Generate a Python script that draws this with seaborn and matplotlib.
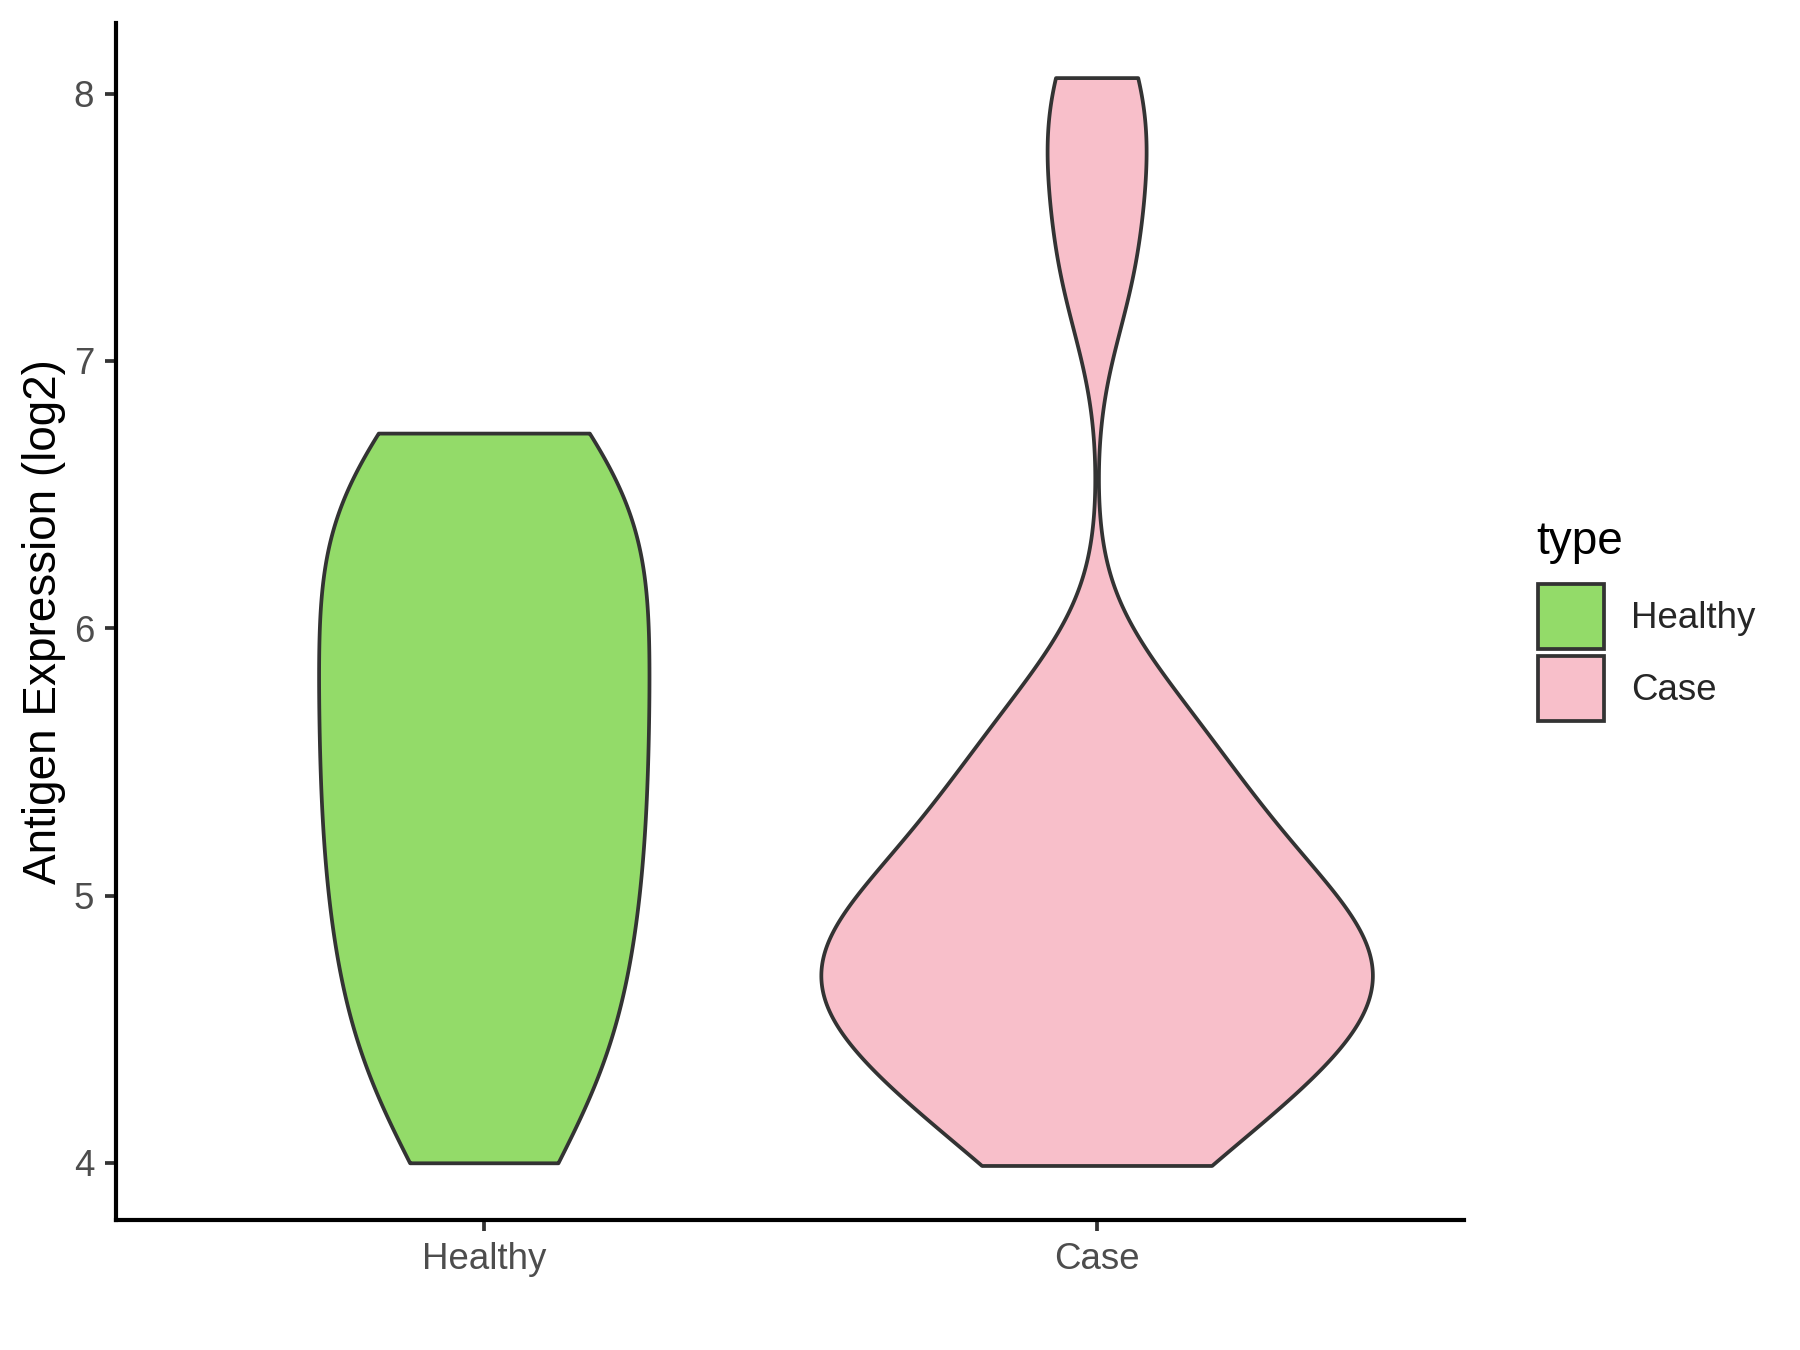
import numpy as np
import pandas as pd
import matplotlib.pyplot as plt
import seaborn as sns
from matplotlib.patches import Patch

groups = ["Healthy", "Case"]
colors = ["#93DB69", "#F8BFCA"]

healthy_values = [4.00, 4.17, 4.33, 4.48, 4.62, 4.75, 4.88, 5.01, 5.13, 5.25, 5.37, 5.49,
                  5.61, 5.73, 5.85, 5.97, 6.09, 6.21, 6.33, 6.45, 6.57, 6.67, 6.73]
case_values = [3.99, 4.09, 4.20, 4.30, 4.39, 4.47, 4.54, 4.60, 4.65, 4.70, 4.75, 4.81,
               4.87, 4.94, 5.02, 5.11, 5.21, 5.32, 5.45, 5.60, 5.77,
               7.32, 7.74, 8.06]

y_ticks = [4, 5, 6, 7, 8]

df = pd.DataFrame({
    "type": ["Healthy"] * len(healthy_values) + ["Case"] * len(case_values),
    "expr": healthy_values + case_values,
})


def bw_nrd0(kde):
    # same rule as R's default bandwidth (bw.nrd0)
    x = kde.dataset[0]
    sd = np.std(x, ddof=1)
    q75, q25 = np.percentile(x, [75, 25])
    h = 0.9 * min(sd, (q75 - q25) / 1.34) * len(x) ** -0.2
    return h / sd


sns.set_theme(style="ticks")
plt.rcParams["font.family"] = ["Liberation Sans", "DejaVu Sans"]

fig = plt.figure(figsize=(6, 4.5), dpi=300)
ax = fig.add_axes([0.0645, 0.0963, 0.749, 0.887])

sns.violinplot(data=df, x="type", y="expr", hue="type", order=groups, hue_order=groups,
               palette=dict(zip(groups, colors)), saturation=1, cut=0, gridsize=512,
               density_norm="area", common_norm=True, bw_method=bw_nrd0,
               inner=None, width=0.9, linewidth=0.9, linecolor="#333333",
               legend=False, ax=ax)

ax.set_xlim(-0.6, 1.6)
ax.set_ylim(3.786, 8.266)
ax.set_yticks(y_ticks)
ax.set_xlabel("")
ax.set_ylabel("Antigen Expression (log2)", fontsize=11, color="black", labelpad=1.8)

sns.despine(ax=ax)
for side in ["left", "bottom"]:
    ax.spines[side].set_color("black")
    ax.spines[side].set_linewidth(1.0)
ax.tick_params(axis="both", length=2.75, width=0.9, color="#333333",
               labelsize=8.8, labelcolor="#4D4D4D", pad=2.5)

# legend: title as plain text, keys below it
fig.text(0.8533, 0.5893, "type", fontsize=11, color="black", ha="left", va="baseline")
handles = [Patch(facecolor=c, edgecolor="#333333", linewidth=0.9, label=g)
           for g, c in zip(groups, colors)]
fig.legend(handles=handles, loc="upper left", bbox_to_anchor=(0.8545, 0.5674),
           frameon=False, fontsize=8.8, handlelength=1.8, handleheight=2.35,
           handletextpad=0.74, labelspacing=0.2, borderpad=0, borderaxespad=0)

fig.savefig("out.png", dpi=300)
